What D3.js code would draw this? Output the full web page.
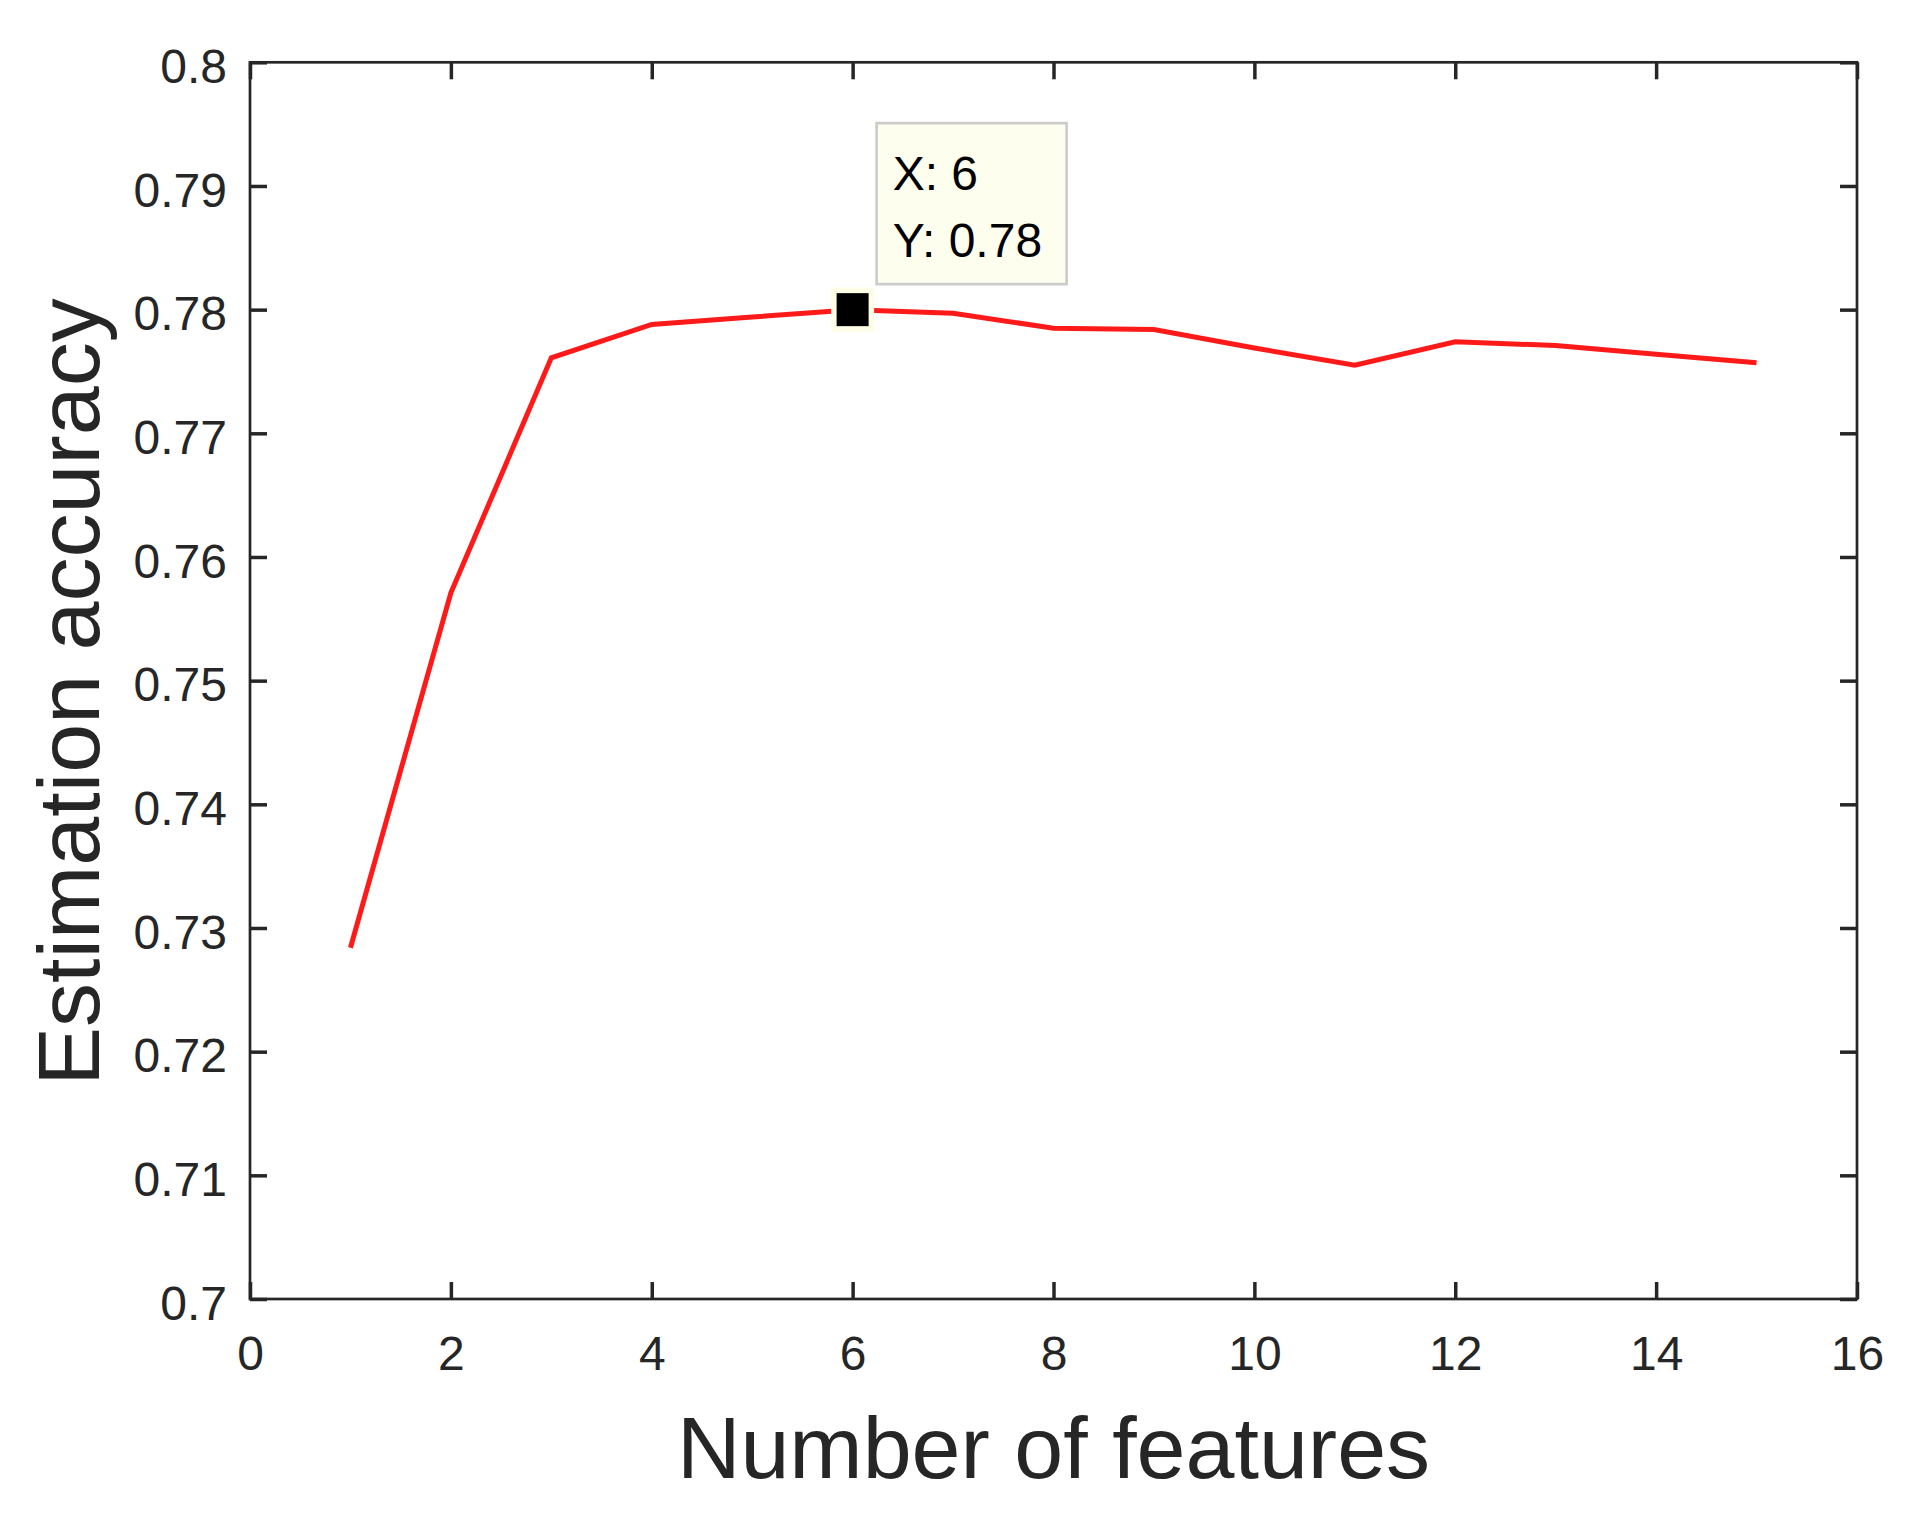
<!DOCTYPE html>
<html>
<head>
<meta charset="utf-8">
<script src="https://cdn.jsdelivr.net/npm/d3@7"></script>
<style>
  html, body { margin: 0; padding: 0; background: #ffffff; }
  svg { display: block; }
  text { font-family: "Liberation Sans", Arial, sans-serif; }
</style>
</head>
<body>
<svg id="chart" width="1923" height="1527"></svg>
<script>
// ---- data ----
const features = [1, 2, 3, 4, 5, 6, 7, 8, 9, 10, 11, 12, 13, 14, 15];
const accuracy = [0.7284, 0.7571, 0.7761, 0.7788, 0.7794, 0.7800, 0.7797, 0.7785, 0.7784, 0.7769, 0.7755, 0.7774, 0.7771, 0.7764, 0.7757];
const xTicks = [0, 2, 4, 6, 8, 10, 12, 14, 16];
const xTickLabels = ["0", "2", "4", "6", "8", "10", "12", "14", "16"];
const yTicks = [0.70, 0.71, 0.72, 0.73, 0.74, 0.75, 0.76, 0.77, 0.78, 0.79, 0.80];
const yTickLabels = ["0.7", "0.71", "0.72", "0.73", "0.74", "0.75", "0.76", "0.77", "0.78", "0.79", "0.8"];
const tipPoint = [6, 0.78];
const tipLines = ["X: 6", "Y: 0.78"];
const xTitle = "Number of features";
const yTitle = "Estimation accuracy";

// ---- layout ----
const L = 250, R = 1857, T = 62.3, B = 1299;
const axisColor = "#262626";
const svg = d3.select("#chart");

const x = d3.scaleLinear().domain([0, 16]).range([L, R]);
const y = d3.scaleLinear().domain([0.7, 0.8]).range([B, T]);

const tickLen = 17;

// bottom axis
const gB = svg.append("g").attr("transform", `translate(0,${B})`)
  .call(d3.axisBottom(x).tickValues(xTicks).tickSizeInner(-tickLen).tickSizeOuter(0)
    .tickPadding(37).tickFormat((d, i) => xTickLabels[i]));
// top axis
const gT = svg.append("g").attr("transform", `translate(0,${T})`)
  .call(d3.axisTop(x).tickValues(xTicks).tickSizeInner(-tickLen).tickSizeOuter(0).tickFormat(""));
// left axis
const gL = svg.append("g").attr("transform", `translate(${L},0)`)
  .call(d3.axisLeft(y).tickValues(yTicks).tickSizeInner(-tickLen).tickSizeOuter(0)
    .tickPadding(23).tickFormat((d, i) => yTickLabels[i]));
// right axis
const gR = svg.append("g").attr("transform", `translate(${R},0)`)
  .call(d3.axisRight(y).tickValues(yTicks).tickSizeInner(-tickLen).tickSizeOuter(0).tickFormat(""));

[gB, gT, gL, gR].forEach(g => {
  g.select(".domain").remove();
  g.selectAll(".tick line").attr("stroke", axisColor).attr("stroke-width", 3.5);
  g.selectAll(".tick text").attr("fill", axisColor).attr("font-size", 48)
    .attr("font-family", "Liberation Sans, Arial, sans-serif");
});
gL.selectAll(".tick text").attr("dy", "0.42em");
// hide ticks sitting on corners (drawn by box anyway)

// box
svg.append("rect")
  .attr("x", L).attr("y", T).attr("width", R - L).attr("height", B - T)
  .attr("fill", "none").attr("stroke", axisColor).attr("stroke-width", 2.7);

// line
const line = d3.line().x((d, i) => x(features[i])).y(d => y(d));
svg.append("path")
  .datum(accuracy)
  .attr("d", line)
  .attr("fill", "none")
  .attr("stroke", "#ff1a1a")
  .attr("stroke-width", 5)
  .attr("stroke-linejoin", "miter");

// data tip marker
const mx = x(tipPoint[0]), my = y(tipPoint[1]);
svg.append("rect")
  .attr("x", mx - 21.5).attr("y", my - 22).attr("width", 43).attr("height", 44)
  .attr("fill", "#fefee6");
svg.append("rect")
  .attr("x", mx - 16).attr("y", my - 16.5).attr("width", 32).attr("height", 33)
  .attr("fill", "#000000");

// data tip box
const bx = mx + 24, byTop = my - 186.5;
svg.append("rect")
  .attr("x", bx).attr("y", byTop).attr("width", 190).attr("height", 161)
  .attr("fill", "#fefeee").attr("stroke", "#cccccc").attr("stroke-width", 2.7);
svg.append("g").selectAll("text").data(tipLines).join("text")
  .attr("x", bx + 16)
  .attr("y", (d, i) => byTop + 67 + i * 67)
  .attr("font-size", 48)
  .attr("fill", "#000000")
  .text(d => d);

// axis titles
svg.append("text")
  .attr("x", (L + R) / 2).attr("y", 1478)
  .attr("text-anchor", "middle")
  .attr("font-size", 88)
  .attr("fill", axisColor)
  .text(xTitle);

svg.append("text")
  .attr("transform", `translate(99,692) rotate(-90)`)
  .attr("text-anchor", "middle")
  .attr("font-size", 88)
  .attr("fill", axisColor)
  .text(yTitle);
</script>
</body>
</html>
